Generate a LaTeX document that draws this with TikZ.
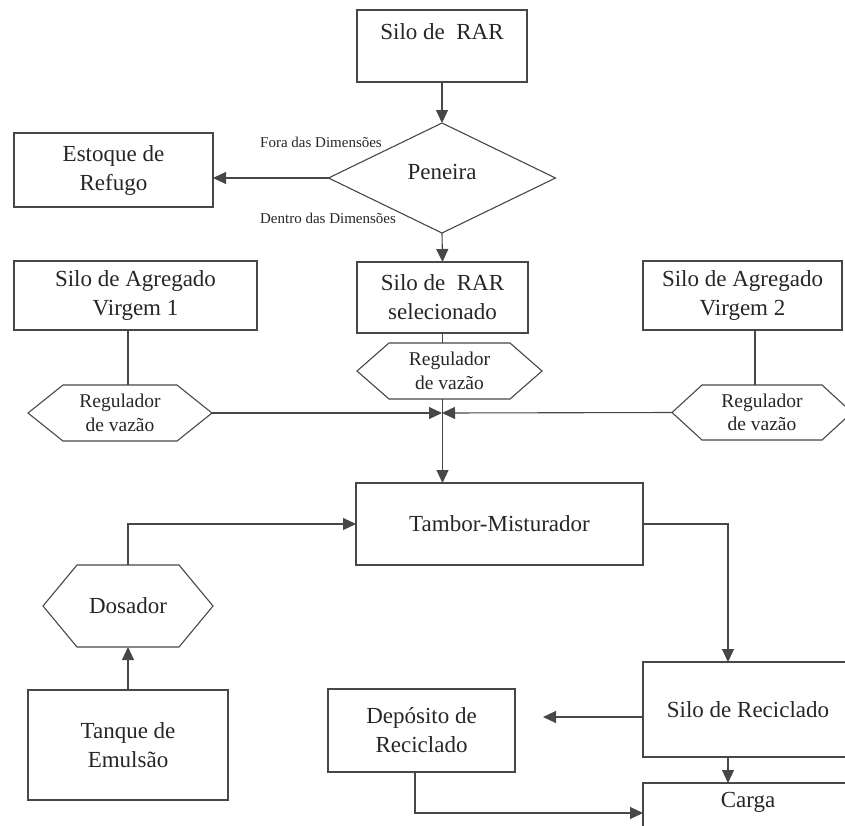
\documentclass[tikz,border=0pt]{standalone}
\usepackage{fontspec}
\setmainfont{Liberation Serif}
\usetikzlibrary{arrows.meta}
\newcommand{\hexdraw}[2]{\draw[ln] (#1.west) -- ([xshift=#2]#1.north west) -- ([xshift=-#2]#1.north east) -- (#1.east) -- ([xshift=-#2]#1.south east) -- ([xshift=#2]#1.south west) -- cycle;}
\begin{document}
\begin{tikzpicture}[x=1pt,y=-1pt,
  ln/.style={line width=1.1pt, draw=black!72},
  arr/.style={ln, -{Triangle[length=13pt,width=12pt]}},
  box/.style={ln, rectangle, inner sep=0pt, outer sep=0pt, align=center, font=\fontsize{23}{29}\selectfont, text=black!85},
  hex/.style={rectangle, inner sep=0pt, outer sep=0pt, align=center, font=\fontsize{19.5}{23.5}\selectfont, text=black!85},
  bighex/.style={hex, font=\fontsize{23}{29}\selectfont},
  dia/.style={rectangle, inner sep=0pt, outer sep=0pt, font=\fontsize{23}{29}\selectfont, text=black!85},
  txt/.style={inner sep=0pt, font=\fontsize{23}{29}\selectfont, text=black!85},
  small/.style={inner sep=0pt, font=\fontsize{15}{18}\selectfont, text=black!85}
]
\useasboundingbox (0,0) rectangle (845,825);
\clip (0,0) rectangle (845,825);

% boxes
\node[box, minimum width=170pt, minimum height=72pt] (rar) at (442,46) {};
\node[txt] (rart) at (442,32) {Silo de~~RAR};
\node[dia, minimum width=227pt, minimum height=110pt] (pen) at (442,178) {};
\node[txt] (pent) at (442,172) {Peneira};
\draw[ln] (pen.west) -- (pen.north) -- (pen.east) -- (pen.south) -- cycle;
\node[small] (fora) at (321,142) {Fora das Dimensões};
\node[small] (dentro) at (328,218) {Dentro das Dimensões};
\node[box, minimum width=199pt, minimum height=74pt] (est) at (113.5,170) {Estoque de\\Refugo};
\node[box, minimum width=171pt, minimum height=71pt] (sel) at (442.5,297.5) {Silo de~~RAR\\selecionado};
\node[box, minimum width=243pt, minimum height=69pt] (ag1) at (135.5,295.5) {Silo de Agregado\\Virgem 1};
\node[box, minimum width=199pt, minimum height=69pt] (ag2) at (742.5,295.5) {Silo de Agregado\\Virgem 2};

% hexagons
\node[hex, minimum width=185pt, minimum height=56pt] (hm) at (449.5,371) {Regulador\\de vazão};
\hexdraw{hm}{32}
\node[hex, minimum width=184pt, minimum height=56pt] (hl) at (120,413) {Regulador\\de vazão};
\hexdraw{hl}{35}
\node[hex, minimum width=180pt, minimum height=55pt] (hr) at (762,412.5) {Regulador\\de vazão};
\hexdraw{hr}{30}
\coordinate (J) at (442,413);

\node[box, minimum width=287pt, minimum height=82pt] (tam) at (499.5,524) {Tambor-Misturador};
\node[bighex, minimum width=170pt, minimum height=82pt] (dos) at (128,606) {Dosador};
\hexdraw{dos}{34}
\node[box, minimum width=200pt, minimum height=110pt] (tan) at (128,745) {Tanque de\\Emulsão};
\node[box, minimum width=187pt, minimum height=83pt] (dep) at (421.5,730.5) {Depósito de\\Reciclado};
\node[box, minimum width=210pt, minimum height=95pt] (sil) at (748,709.5) {Silo de Reciclado};
\node[box, minimum width=210pt, minimum height=60pt] (car) at (748,813) {};
\node[txt] (cart) at (748,802) {Carga};

% connectors
\draw[arr] (rar.south) -- (pen.north);
\draw[arr] (pen.west) -- (pen.west -| est.east);
\draw[arr] (pen.south) -- (sel.north);
\draw[ln] (sel.south) -- (sel.south |- hm.north);
\draw[arr] (sel.south |- hm.south) -- (sel.south |- tam.north);
\draw[arr] (hl.east) -- (J);
\draw[arr] (hr.west) -- (J);
\draw[ln] ([xshift=-7.5]ag1.south) -- ([xshift=-7.5]ag1.south |- hl.north);
\draw[ln] ([xshift=12.5]ag2.south) -- ([xshift=12.5]ag2.south |- hr.north);
\draw[arr] (tan.north) -- (dos.south);
\draw[arr] (dos.north) |- (tam.west);
\draw[arr] (tam.east) -| ([xshift=-20]sil.north);
\draw[arr] ([xshift=-20]sil.south) -- ([xshift=-20]car.north);
\draw[arr, shorten >=28pt] ([yshift=-7.5]sil.west) -- ([yshift=-7.5]sil.west -| dep.east);
\draw[arr] ([xshift=-6.5]dep.south) |- (car.west);
\end{tikzpicture}
\end{document}
